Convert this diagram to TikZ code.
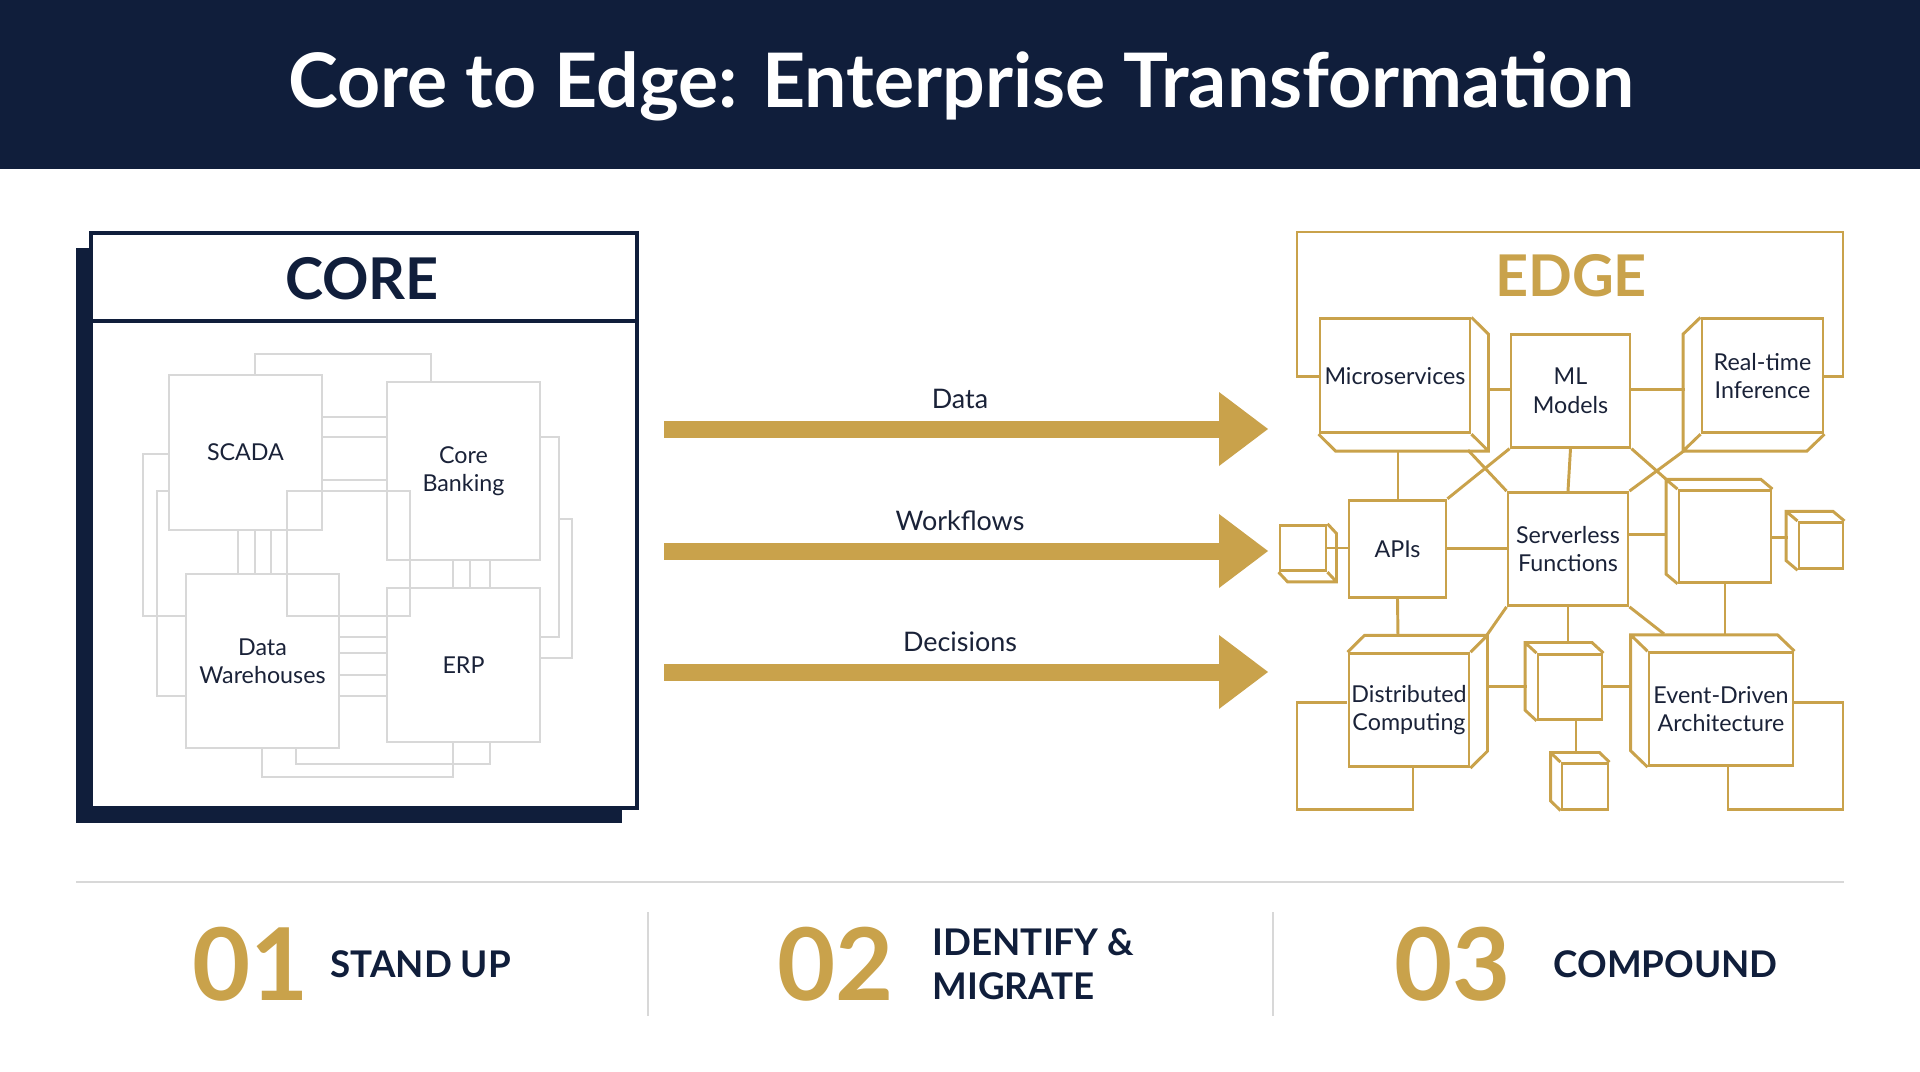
\documentclass[tikz,border=0pt]{standalone}
\usepackage{fontspec}
\setmainfont{Lato}
\usetikzlibrary{calc}
\definecolor{navy}{HTML}{101E3B}
\definecolor{gold}{HTML}{C9A24B}
\definecolor{lgrey}{HTML}{D8D8D8}
\definecolor{txt}{HTML}{1A2238}
\begin{document}
\begin{tikzpicture}[x=0.40833pt,y=-0.40833pt,
  cbox/.style={draw=lgrey,line width=1.2pt,minimum width=153*0.40833pt,font=\fontsize{9.5}{11.5}\selectfont,text=txt,align=center,inner sep=0pt},
  cl/.style={draw=lgrey,line width=1.2pt},
  ebox/.style={draw=gold,line width=1.2pt,font=\fontsize{9.5}{11.5}\selectfont,text=txt,align=center,inner sep=0pt},
  el/.style={draw=gold,line width=1.2pt},
  big/.style={font=\fontsize{41}{41}\selectfont\bfseries,text=gold,anchor=west},
  stepl/.style={font=\fontsize{15}{18}\selectfont\bfseries,text=navy,anchor=west,align=left}]
\useasboundingbox (0,0) rectangle (1920,1072);
\fill[white] (0,0) rectangle (1920,1072);
% header
\fill[navy] (0,0) rectangle (1920,169);
\node[text=white,font=\fontsize{30.7}{31}\selectfont\bfseries] (title) at (961,86) {Core to Edge: Enterprise Transformation};
% CORE
\fill[navy] (76,248) rectangle (622,823);
\filldraw[fill=white,draw=navy,line width=2pt] (91,233) rectangle (637,808);
\draw[navy,line width=2pt] (91,321) -- (637,321);
\node[font=\fontsize{23.5}{24}\selectfont\bfseries,text=navy] (core) at (362,279) {CORE};
\node[cbox,minimum height=155*0.40833pt] (scada) at (245.5,452.5) {SCADA};
\node[cbox,minimum height=178*0.40833pt] (cb) at (463.5,471) {Core\\Banking};
\node[cbox,minimum height=174*0.40833pt] (dw) at (262.5,661) {Data\\Warehouses};
\node[cbox,minimum height=154*0.40833pt] (erp) at (463.5,665) {ERP};
\draw[cl] (255,375)--(255,354)--(431,354)--(431,382);
\foreach \y in {417,437,480} \draw[cl] (322,\y)--(387,\y);
\draw[cl] (287,491) rectangle (410,616);
\foreach \x in {238,255,271} \draw[cl] (\x,530)--(\x,574);
\draw[cl] (169,454)--(143,454)--(143,616)--(186,616);
\draw[cl] (169,491)--(157,491)--(157,696)--(186,696);
\foreach \x in {453,470,490} \draw[cl] (\x,560)--(\x,588);
\draw[cl] (540,437)--(559,437)--(559,637)--(540,637);
\draw[cl] (559,519)--(572,519)--(572,658)--(540,658);
\foreach \y in {637,653,675,696} \draw[cl] (339,\y)--(387,\y);
\draw[cl] (410,616)--(387,616);
\draw[cl] (262,748)--(262,777)--(453,777)--(453,742);
\draw[cl] (296,748)--(296,764)--(490,764)--(490,742);
% arrows
\foreach \y/\t/\n in {429/Data/a1,551/Workflows/a2,672/Decisions/a3}{
  \fill[gold] (664,\y-8.5) rectangle (1222,\y+8.5);
  \fill[gold] (1219,\y-37) -- (1268,\y) -- (1219,\y+37) -- cycle;
  \node[font=\fontsize{11}{13}\selectfont,text=txt] (\n) at (960,\y-30) {\t};
}
% EDGE
\begin{scope}[shift={(0,8.12)},yscale=0.965]
\node[font=\fontsize{23.5}{24}\selectfont\bfseries,text=gold] (edge) at (1571,277) {EDGE};
\draw[el] (1320,382)--(1297,382)--(1297,232)--(1843,232)--(1843,382)--(1823,382);
\node[ebox,minimum width=150*0.40833pt,minimum height=113.9*0.40833pt] (ms) at (1395,381) {Microservices};
\node[ebox,minimum width=119*0.40833pt,minimum height=112.9*0.40833pt] (ml) at (1570.5,396.5) {ML\\Models};
\node[ebox,minimum width=121*0.40833pt,minimum height=113.9*0.40833pt] (rt) at (1762.5,381) {Real-time\\Inference};
\node[ebox,minimum width=97*0.40833pt,minimum height=97.5*0.40833pt] (api) at (1397.5,560.5) {APIs};
\node[ebox,minimum width=120*0.40833pt,minimum height=112.9*0.40833pt] (sf) at (1568,560.5) {Serverless\\Functions};
\node[ebox,minimum width=92*0.40833pt,minimum height=91.7*0.40833pt] (rc) at (1725,547.5) {};
\node[ebox,minimum width=46*0.40833pt,minimum height=45.4*0.40833pt] (lc) at (1303,559.5) {};
\node[ebox,minimum width=44*0.40833pt,minimum height=46.3*0.40833pt] (src) at (1821,557) {};
\node[ebox,minimum width=120*0.40833pt,minimum height=112.9*0.40833pt] (dc) at (1409,727.5) {Distributed\\Computing};
\node[ebox,minimum width=64*0.40833pt,minimum height=64.7*0.40833pt] (mc) at (1570,703.5) {};
\node[ebox,minimum width=46*0.40833pt,minimum height=45.4*0.40833pt] (bc) at (1585,806.5) {};
\node[ebox,minimum width=144*0.40833pt,minimum height=112.9*0.40833pt] (ev) at (1721,726.5) {Event-Driven\\Architecture};
\draw[el] (ms.north east)--++(17,17.5)--($(ms.south east)+(17,17.5)$)--($(ms.south west)+(17,17.5)$)--(ms.south west) (ms.south east)--++(17,17.5);
\draw[el] (lc.north east)--++(9,10)--($(lc.south east)+(9,10)$)--($(lc.south west)+(9,10)$)--(lc.south west) (lc.south east)--++(9,10);
\draw[el] (rt.north west)--++(-17.5,17.5)--($(rt.south west)+(-17.5,17.5)$)--($(rt.south east)+(-17.5,17.5)$)--(rt.south east) (rt.south west)--++(-17.5,17.5);
\draw[el] (dc.north west)--++(17,-17.5)--($(dc.north east)+(17,-17.5)$)--($(dc.south east)+(17,-17.5)$)--(dc.south east) (dc.north east)--++(17,-17.5);
\foreach \n/\dx/\dy in {rc/-11.5/-10,src/-11.5/-10,mc/-11.5/-11,bc/-10/-10,ev/-17/-17}{
  \draw[el] (\n.south west)--++(\dx,\dy)--($(\n.north west)+(\dx,\dy)$)--($(\n.north east)+(\dx,\dy)$)--(\n.north east) (\n.north west)--++(\dx,\dy);
}
\draw[el] (1487,395.5)--(ml.west|-1487,395.5);
\draw[el] (ml.east|-0,395.5)--(1685,395.5);
\draw[el] (1398,458)--(api.north-|1398,0);
\draw[el] (ml.south)--(sf.north);
\draw[el] (ml.south west)--(api.north east);
\draw[el] (1468,458)--(sf.north west);
\draw[el] (ml.south east)--(1667,489);
\draw[el] (1685,458)--(sf.north east);
\draw[el] (api.east)--(sf.west|-api.east);
\draw[el] (lc.east)--(api.west|-lc.east);
\draw[el] (sf.east|-0,545)--(1667,545);
\draw[el] (rc.east|-0,548.5)--(1788,548.5);
\draw[el] (api.south)--(1398,651);
\draw[el] (sf.south west)--(1486,651);
\draw[el] (sf.south)--(1568,659);
\draw[el] (sf.south east)--(1664,648.5);
\draw[el] (rc.south)--(1725,650);
\draw[el] (1486,703)--(1527,703);
\draw[el] (mc.east|-0,703)--(1632,703);
\draw[el] (1576,737)--(1576,773);
\draw[el] (1347,720)--(1297,720)--(1297,830)--(1413,830)--(1413,786);
\draw[el] (1793,720)--(1843,720)--(1843,830)--(1728,830)--(1728,785);
\end{scope}
% bottom
\draw[lgrey,line width=0.8pt] (76,882)--(1844,882);
\draw[lgrey,line width=0.8pt] (648,912)--(648,1016);
\draw[lgrey,line width=0.8pt] (1273,912)--(1273,1016);
\node[big] (n1) at (184,964) {01};
\node[stepl] (s1) at (322,964) {STAND UP};
\node[big] (n2) at (769,964) {02};
\node[stepl] (s2) at (924,964) {IDENTIFY \&\\MIGRATE};
\node[big] (n3) at (1386,964) {03};
\node[stepl] (s3) at (1545,964) {COMPOUND};
\end{tikzpicture}
\end{document}
